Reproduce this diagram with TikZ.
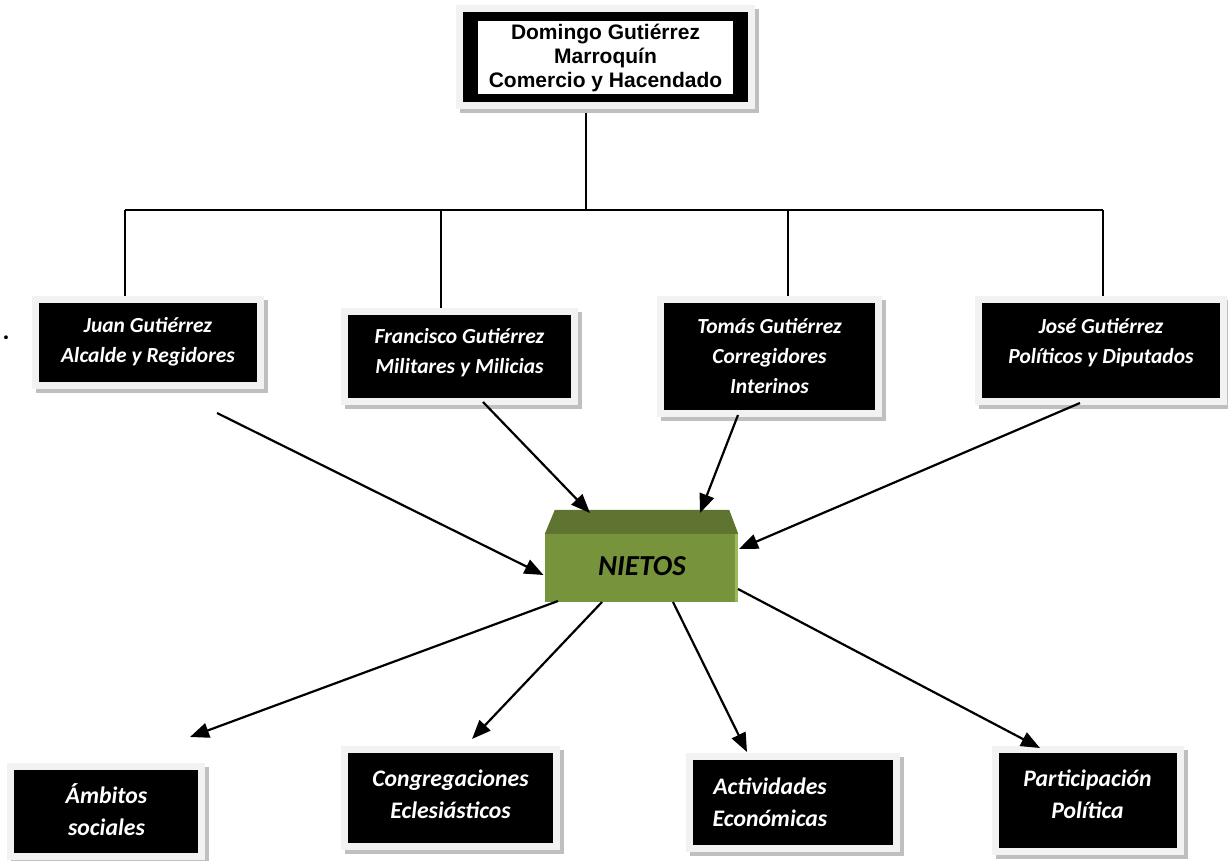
\documentclass[tikz,border=0pt]{standalone}
\usepackage{fontspec}
\setmainfont{Carlito}
\newfontfamily\arialf{Liberation Sans}
\usetikzlibrary{arrows.meta,calc,backgrounds}
\definecolor{framegray}{HTML}{F2F2F2}
\definecolor{shadowgray}{HTML}{BFBFBF}
\definecolor{olivefront}{HTML}{77933C}
\definecolor{olivetop}{HTML}{5F7431}
\definecolor{oliveedge}{HTML}{9BBB59}
\tikzset{
  framed/.style={
    preaction={draw=shadowgray, line width=14pt, transform canvas={shift={(3.5pt,-3.5pt)}}},
    preaction={draw=framegray, line width=14pt}},
  darkbox/.style={framed, fill=black, inner sep=0pt},
  uptext/.style={text=white, font=\bfseries\itshape\fontsize{21.5}{30}\selectfont, align=center, inner sep=0pt},
  lowtext/.style={text=white, font=\bfseries\itshape\fontsize{23.7}{32}\selectfont, align=center, inner sep=0pt},
  tree/.style={line width=1.5pt},
  arr/.style={line width=2.2pt, -{Triangle[length=19pt,width=15pt]}},
}
\begin{document}
\begin{tikzpicture}[x=1pt,y=-1pt]
\useasboundingbox (0,0) rectangle (1228,860);

% top box
\node[darkbox, minimum width=285pt, minimum height=90pt,
  path picture={\fill[white] ([shift={(15pt,-9pt)}]path picture bounding box.north west) rectangle ([shift={(-15pt,8pt)}]path picture bounding box.south east);}]
  (top) at (605.5,57) {};
\node[font=\arialf\bfseries\fontsize{21}{24}\selectfont, align=center, inner sep=0pt] (topt) at (605.5,57.5)
  {Domingo Gutiérrez\\Marroquín\\Comercio y Hacendado};

% children
\node[darkbox, minimum width=218pt, minimum height=79pt] (juan) at (148,342.5) {};
\node[uptext] (juant) at (148,342) {Juan Gutiérrez\\Alcalde y Regidores};
\node[darkbox, minimum width=223pt, minimum height=83pt] (fran) at (459.5,356.5) {};
\node[uptext] (frant) at (459.5,353) {Francisco Gutiérrez\\Militares y Milicias};
\node[darkbox, minimum width=211pt, minimum height=107pt] (tomas) at (769.5,356.5) {};
\node[uptext] (tomast) at (769.5,356) {Tomás Gutiérrez\\Corregidores\\Interinos};
\node[darkbox, minimum width=238pt, minimum height=95pt] (jose) at (1101,350.5) {};
\node[uptext] (joset) at (1101,342.5) {José Gutiérrez\\Políticos y Diputados};

\node[font=\bfseries\fontsize{26}{28}\selectfont, inner sep=0pt] (dot) at (6,338) {.};

% bottom boxes
\node[darkbox, minimum width=184pt, minimum height=83pt] (amb) at (106,811.5) {};
\node[lowtext] (ambt) at (106.5,810) {Ámbitos\\sociales};
\node[darkbox, minimum width=205pt, minimum height=90pt] (cong) at (450.5,798) {};
\node[lowtext] (congt) at (450.5,794) {Congregaciones\\Eclesiásticos};
\node[darkbox, minimum width=200pt, minimum height=85pt] (act) at (793,802.5) {};
\node[lowtext] (actt) at (770,802) {Actividades\\Económicas};
\node[darkbox, minimum width=178pt, minimum height=95pt] (part) at (1088,800.5) {};
\node[lowtext] (partt) at (1087.5,794) {Participación\\Política};

% tree lines
\coordinate (trunk) at (586,210);
\coordinate (b1) at (125,210);
\coordinate (b2) at (441,210);
\coordinate (b3) at (788,210);
\coordinate (b4) at (1103,210);
\begin{scope}[on background layer]
\draw[tree] (trunk |- top.south) -- (trunk);
\draw[tree] (b1) -- (b4);
\draw[tree] (b1) -- (b1 |- juan.north);
\draw[tree] (b2) -- (b2 |- fran.north);
\draw[tree] (b3) -- (b3 |- tomas.north);
\draw[tree] (b4) -- (b4 |- jose.north);
\end{scope}

% NIETOS
\node[fill=olivefront, minimum width=193pt, minimum height=68pt, inner sep=0pt] (nietos) at (641.5,568) {};
\fill[olivetop] (nietos.north west) -- ($(nietos.north west)+(10,-24)$) -- ($(nietos.north east)+(-9,-24)$) -- (nietos.north east) -- cycle;
\fill[oliveedge] ($(nietos.north east)+(-3,0)$) rectangle (nietos.south east);
\node[font=\bfseries\itshape\fontsize{29}{32}\selectfont, inner sep=0pt] (nietost) at (642,566) {NIETOS};

% arrows in
\coordinate (jt) at (217,413);
\coordinate (jh) at (543.5,575);
\coordinate (ft) at (483,402);
\coordinate (fh) at (590,513);
\coordinate (tt) at (738,415);
\coordinate (th) at (700,513);
\coordinate (st) at (1080,403);
\coordinate (sh) at (739,549);
\draw[arr] (jt) -- (jh);
\draw[arr] (ft) -- (fh);
\draw[arr] (tt) -- (th);
\draw[arr] (st) -- (sh);

% arrows out
\coordinate (o1) at (558,601);
\coordinate (h1) at (190,737);
\coordinate (o2) at (602,602);
\coordinate (h2) at (472,739);
\coordinate (o3) at (673,602);
\coordinate (h3) at (747,752);
\coordinate (o4) at (738,589);
\coordinate (h4) at (1040,748);
\draw[arr] (o1) -- (h1);
\draw[arr] (o2) -- (h2);
\draw[arr] (o3) -- (h3);
\draw[arr] (o4) -- (h4);
\end{tikzpicture}
\end{document}
